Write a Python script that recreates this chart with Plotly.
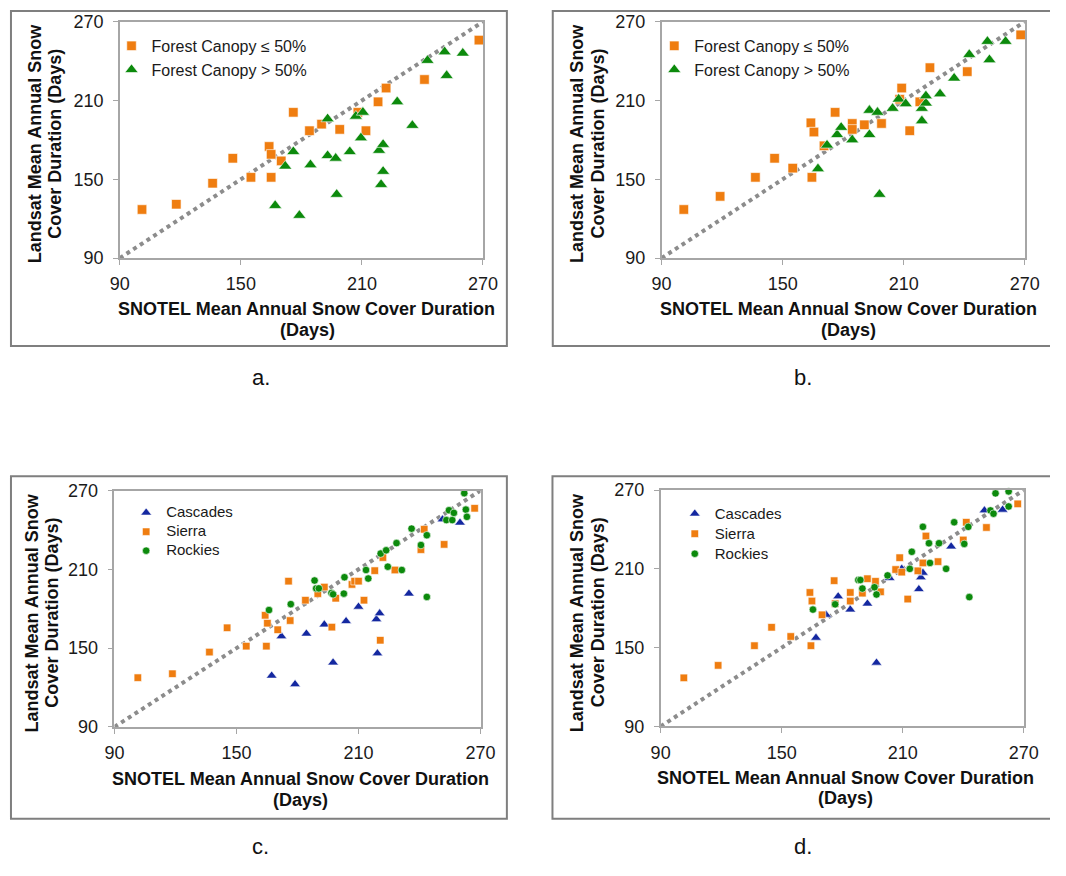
import plotly.graph_objects as go

# ---- data: SNOTEL (x) vs Landsat (y) mean annual snow cover duration, days ----
one_to_one = [90, 270]

# panel a
a_open_x = [101, 118, 136, 146, 155, 164, 165, 165, 170, 176, 184, 190, 199, 208, 212, 218, 222, 241, 268]
a_open_y = [127, 131, 147, 166, 151.5, 175, 169, 151.5, 164, 201, 187, 192, 188, 201, 187, 209, 219.5, 226, 256]
a_forest_x = [167, 179, 172, 176, 184.5, 193, 193, 197, 197.5, 204, 207, 210.5, 209.5, 218.5, 220.5, 220.5,
              219.5, 227.5, 235, 242.5, 251, 252, 260]
a_forest_y = [130, 122.5, 160, 171, 161, 196, 168, 166, 138.5, 171, 198, 201, 181.5, 172, 176.5, 156,
              146, 209, 191, 240.5, 247, 229, 246]

# panel b
b_open_x = [101, 119, 136.5, 146, 155, 164.5, 164, 165.5, 170.5, 176, 184.5, 184.5, 190.5, 199, 209, 208,
            213, 218, 223, 241.5, 268]
b_open_y = [127, 137, 151.5, 166, 158.5, 151.5, 193, 186, 175.5, 201, 192.5, 188, 191.5, 192.5, 219.5, 211,
            187, 209, 235, 232, 260]
b_forest_x = [167.5, 172, 177, 179, 184.5, 193, 193, 197, 198, 204.5, 207.5, 211, 219, 219, 221, 221,
              228, 235, 242.5, 251.5, 252.5, 260.5]
b_forest_y = [158, 176, 184, 189.5, 180, 202.5, 184, 201, 138.5, 204, 211, 207.5, 194.5, 204, 208, 213.5,
              215, 227, 245, 255, 241, 255]

# panel c
c_casc_x = [167.3, 178.8, 172.1, 184.4, 193.2, 197.5, 203.9, 210, 218.8, 220.4, 219.3, 234.8, 251.3, 259.9]
c_casc_y = [129, 122.5, 159, 161, 168, 139, 170.5, 181.5, 172, 176.5, 146, 191.5, 248, 245.5]
c_sierra_x = [101.5, 118.5, 136.7, 145.4, 154.8, 164.1, 165.2, 164.7, 170.3, 175.6, 176.4, 183.9, 190, 193.2,
              196.9, 198.8, 206.8, 208.1, 210, 212.7, 218, 222, 220.7, 227.9, 240.7, 242.3, 252.1, 267.1]
c_sierra_y = [127.5, 130.5, 147, 165.5, 151.5, 175, 169, 151.5, 164, 201, 171, 186.5, 191.5, 196.5,
              166, 188, 198.5, 201, 201, 186.5, 209, 219, 156, 209.5, 225, 240.5, 229, 256.5]
c_rock_x = [166, 176.7, 188.4, 189.2, 190.5, 196.7, 197.5, 202.8, 203.1, 213.7, 214.8, 220.9, 223.6, 224.4,
            228.7, 231.3, 236.1, 240.7, 243.6, 243.6, 253.2, 254.5, 256.1, 256.9, 262, 262.8, 263.3]
c_rock_y = [179, 183.5, 201.5, 195.5, 195.5, 192, 191, 191.5, 204, 209.5, 203, 222, 224.5, 212,
            230, 209.5, 241, 228.5, 236, 189, 247.5, 255, 247.5, 253, 268, 255.5, 250]

# panel d
d_casc_x = [167, 172, 178, 184, 192.5, 197, 203.5, 209.5, 218, 219, 220, 234, 250.5, 259.5]
d_casc_y = [157.5, 175, 189, 179, 183.5, 138.5, 203, 210, 194.5, 203.5, 207, 227, 254.5, 255]
d_sierra_x = [101.5, 118.5, 136.5, 145, 154.5, 164.5, 164, 165, 170, 176, 176.5, 184, 184, 190, 192.5,
              196.5, 199, 206.5, 208.5, 209.5, 212.5, 217.5, 220, 221.5, 227.5, 240, 241.5, 251.5, 267]
d_sierra_y = [127, 136.5, 151.5, 165.5, 158.5, 151.5, 192, 185.5, 175, 201, 183.5, 192, 185.5, 191.5, 202.5,
              200.5, 192.5, 209.5, 218.5, 207.5, 187, 208.5, 214.5, 235, 215.5, 232, 245.5, 241.5, 259.5]
d_rock_x = [165.5, 176.5, 188, 189, 190, 196, 197, 202.5, 213.5, 214.5, 220, 223, 223.5, 228, 231.5,
            235.5, 240.5, 242.5, 243, 253.5, 255, 256, 262.5, 262.5]
d_rock_y = [179, 183, 201.5, 201.5, 195, 196, 190.5, 205, 210, 223, 242, 229.5, 214.5, 229.5, 210,
            245.5, 229, 242, 188.5, 254.5, 252, 267.5, 257.5, 269]

tick_vals = [90, 150, 210, 270]
x_title = ["SNOTEL Mean Annual Snow Cover Duration", "(Days)"]
y_title = ["Landsat Mean Annual Snow", "Cover Duration (Days)"]
captions = ["a.", "b.", "c.", "d."]

# ---- page geometry ----
# The page body keeps the browser's default 8 px margin, so the figure is made
# smaller by that margin on each side and page positions are shifted by it.
PAGE_W, PAGE_H = 1066, 876
BODY = 8
W, H = PAGE_W - 2 * BODY, PAGE_H - 2 * BODY

FONT = "Liberation Sans, Arial, sans-serif"
ORANGE = "#EF7D10"
GREEN = "#0C8A0C"
BLUE = "#1428A0"
EDGE = "rgba(255,255,255,0.75)"


def px(x):
    """page x (px) -> paper fraction"""
    return (x - BODY) / W


def py(y):
    """page y (px) -> paper fraction"""
    return 1 - (y - BODY) / H


# page-pixel geometry of each panel: plot area, outer frame, text anchors
panels = [
    dict(plot=(120.5, 492.5, 20, 262), frame=(9, 517, 9, 352), cap=(265, 384),
         ytl=((33, 145), (54, 145)), xtl=((312, 314), (313, 335.5)),
         legend=(112, 27.4)),
    dict(plot=(675.5, 1047.5, 20, 262), frame=(564, 1090, 9, 352), cap=(820, 384),
         ytl=((589, 145), (610, 145)), xtl=((866.5, 314), (866.5, 335.5)),
         legend=(668, 27.4)),
    dict(plot=(115, 490, 500, 742), frame=(9, 517, 485.3, 836), cap=(265, 864),
         ytl=((30.5, 625), (51, 625)), xtl=((306, 795.5), (306, 817)),
         legend=(127, 507.8)),
    dict(plot=(674.5, 1046.5, 499.5, 741.5), frame=(563.7, 1090, 485.3, 836), cap=(820, 864),
         ytl=((588.5, 625), (610, 625)), xtl=((864, 794.5), (864, 815)),
         legend=(689, 508.3)),
]

series = [
    [("Forest Canopy ≤ 50%", a_open_x, a_open_y, "square", ORANGE, 9.5),
     ("Forest Canopy > 50%", a_forest_x, a_forest_y, "triangle-up", GREEN, 11.5)],
    [("Forest Canopy ≤ 50%", b_open_x, b_open_y, "square", ORANGE, 9.5),
     ("Forest Canopy > 50%", b_forest_x, b_forest_y, "triangle-up", GREEN, 11.5)],
    [("Cascades", c_casc_x, c_casc_y, "triangle-up", BLUE, 9.5),
     ("Sierra", c_sierra_x, c_sierra_y, "square", ORANGE, 7.5),
     ("Rockies", c_rock_x, c_rock_y, "circle", GREEN, 7.5)],
    [("Cascades", d_casc_x, d_casc_y, "triangle-up", BLUE, 9.5),
     ("Sierra", d_sierra_x, d_sierra_y, "square", ORANGE, 7.5),
     ("Rockies", d_rock_x, d_rock_y, "circle", GREEN, 7.5)],
]

fig = go.Figure()
layout = dict(
    width=W, height=H, margin=dict(l=0, r=0, t=0, b=0),
    paper_bgcolor="white", plot_bgcolor="white",
    font=dict(family=FONT, color="#1a1a1a"),
    shapes=[], annotations=[],
)

for i, (p, group) in enumerate(zip(panels, series)):
    n = "" if i == 0 else str(i + 1)
    xa, ya = "x" + n, "y" + n
    leg = "legend" + n
    x0, x1, y0, y1 = p["plot"]

    axis_common = dict(
        range=[90, 270], tickvals=tick_vals, ticks="outside", ticklen=5, tickwidth=1.2,
        tickcolor="#A6A6A6", showline=True, linecolor="#A6A6A6", linewidth=1.5, mirror=True,
        showgrid=False, zeroline=False, tickfont=dict(size=18, color="#1a1a1a", family=FONT),
        fixedrange=True,
    )
    layout["xaxis" + n] = dict(axis_common, domain=[px(x0), px(x1)], anchor=ya, ticklabelstandoff=4)
    layout["yaxis" + n] = dict(axis_common, domain=[py(y1), py(y0)], anchor=xa, ticklabelstandoff=6)

    # 1:1 reference line
    fig.add_trace(go.Scatter(
        x=one_to_one, y=one_to_one, mode="lines", xaxis=xa, yaxis=ya, showlegend=False,
        line=dict(color="#8C8C8C", width=4, dash="4px,4px"), hoverinfo="skip",
    ))

    small = i >= 2
    for name, xs, ys, sym, col, size in group:
        label = f'<span style="font-size:15px">{name}</span>' if small else name
        fig.add_trace(go.Scatter(
            x=xs, y=ys, mode="markers", name=label, xaxis=xa, yaxis=ya, legend=leg,
            cliponaxis=False,
            marker=dict(symbol=sym, color=col, size=size, line=dict(color=EDGE, width=0.8)),
        ))

    lx, ly = p["legend"]
    layout[leg] = dict(
        x=px(lx), y=py(ly), xanchor="left", yanchor="top", bgcolor="rgba(0,0,0,0)",
        borderwidth=0, itemsizing="trace", tracegroupgap=0, traceorder="normal",
        font=dict(family=FONT, color="#1a1a1a", size=(12.3 if i == 2 else 13.1) if small else 16),
    )

    # outer frame around each panel
    fx0, fx1, fy0, fy1 = p["frame"]
    layout["shapes"].append(dict(
        type="rect", xref="paper", yref="paper", x0=px(fx0), x1=px(fx1), y0=py(fy1), y1=py(fy0),
        line=dict(color="#7F7F7F", width=2), fillcolor="rgba(0,0,0,0)", layer="below",
    ))

    # axis titles, one line per annotation
    for (tx, ty), txt in zip(p["xtl"], x_title):
        layout["annotations"].append(dict(
            x=px(tx), y=py(ty), xref="paper", yref="paper", text=txt, showarrow=False,
            xanchor="center", yanchor="middle",
            font=dict(family=FONT, size=18, color="#111", weight="bold"),
        ))
    for (tx, ty), txt in zip(p["ytl"], y_title):
        layout["annotations"].append(dict(
            x=px(tx), y=py(ty), xref="paper", yref="paper", text=txt, showarrow=False,
            textangle=-90, xanchor="center", yanchor="middle",
            font=dict(family=FONT, size=18, color="#111", weight="bold"),
        ))

    cx, cy = p["cap"]
    layout["annotations"].append(dict(
        x=px(cx), y=py(cy), xref="paper", yref="paper", text=captions[i], showarrow=False,
        xanchor="center", yanchor="middle", font=dict(family=FONT, size=22, color="#111"),
    ))

fig.update_layout(**layout)
fig.write_html("out.html")
